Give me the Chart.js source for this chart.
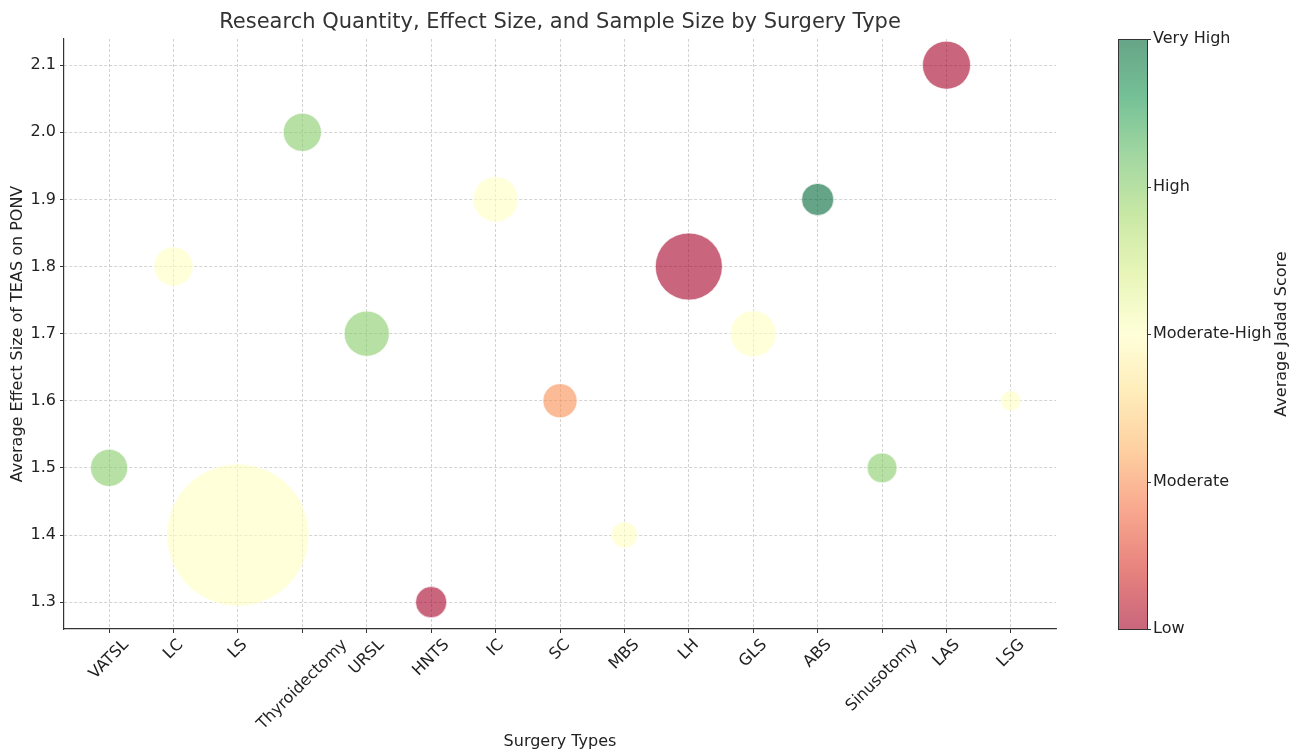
<!DOCTYPE html>
<html>
<head>
<meta charset="utf-8">
<title>Surgery Types Bubble Chart</title>
<script src="https://cdn.jsdelivr.net/npm/chart.js@4.4.1/dist/chart.umd.min.js"></script>
<style>
  html, body { margin: 0; padding: 0; background: #ffffff; }
  canvas { display: block; }
</style>
</head>
<body>
<canvas id="bubbleChart" width="1290" height="751"></canvas>
<script>
var surgeryTypes = ["VATSL", "LC", "LS", "Thyroidectomy", "URSL", "HNTS", "IC", "SC", "MBS", "LH", "GLS", "ABS", "Sinusotomy", "LAS", "LSG"];
var effectSizes = [1.5, 1.8, 1.4, 2.0, 1.7, 1.3, 1.9, 1.6, 1.4, 1.8, 1.7, 1.9, 1.5, 2.1, 1.6];
var sampleSizes = [71, 79, 1041, 75, 105, 50, 105, 60, 35, 232, 109, 53, 46, 119, 21];
// 0 = Low ... 4 = Very High
var jadadLevels = [3, 2, 2, 3, 3, 0, 2, 1, 2, 0, 2, 4, 3, 0, 2];
var jadadLabels = ["Low", "Moderate", "Moderate-High", "High", "Very High"];

var FONT = "'DejaVu Sans', 'Liberation Sans', sans-serif";
var TEXT = "#222222";

// matplotlib RdYlGn
var rdylgn = ["#a50026", "#d73027", "#f46d43", "#fdae61", "#fee08b", "#ffffbf",
              "#d9ef8b", "#a6d96a", "#66bd63", "#1a9850", "#006837"];

function hexToRgb(h) {
  return [parseInt(h.substr(1, 2), 16), parseInt(h.substr(3, 2), 16), parseInt(h.substr(5, 2), 16)];
}

function cmap(t, alpha) {
  var pos = t * (rdylgn.length - 1);
  var i = Math.min(Math.floor(pos), rdylgn.length - 2);
  var f = pos - i;
  var a = hexToRgb(rdylgn[i]);
  var b = hexToRgb(rdylgn[i + 1]);
  var c = a.map((v, k) => Math.round(v + (b[k] - v) * f));
  return "rgba(" + c[0] + "," + c[1] + "," + c[2] + "," + alpha + ")";
}

var extrasPlugin = {
  id: "extras",
  afterDraw(chart) {
    var ctx = chart.ctx;
    var area = chart.chartArea;
    var xScale = chart.scales.x;
    var cb = chart.scales.cb;

    ctx.save();
    // title, centred over the plot area
    ctx.font = "21px " + FONT;
    ctx.fillStyle = "#333333";
    ctx.textAlign = "center";
    ctx.textBaseline = "middle";
    ctx.fillText("Research Quantity, Effect Size, and Sample Size by Surgery Type", (area.left + area.right) / 2, 23);

    // x tick labels, rotated 45 and centred on the tick
    ctx.font = "16px " + FONT;
    ctx.fillStyle = TEXT;
    xScale.ticks.forEach((t) => {
      var label = surgeryTypes[t.value];
      if (label === undefined) return;
      var w = ctx.measureText(label).width;
      var half = (w + 15) * Math.SQRT1_2 / 2;
      ctx.save();
      ctx.translate(xScale.getPixelForValue(t.value), xScale.top + 8 + half);
      ctx.rotate(-Math.PI / 4);
      ctx.fillText(label, 0, 0);
      ctx.restore();
    });

    // colour bar
    var top = cb.getPixelForValue(4);
    var bottom = cb.getPixelForValue(0);
    var x0 = area.right + 62;
    var bw = 29;
    var grad = ctx.createLinearGradient(0, bottom, 0, top);
    for (var i = 0; i < rdylgn.length; i++) {
      grad.addColorStop(i / (rdylgn.length - 1), cmap(i / (rdylgn.length - 1), 0.6));
    }
    ctx.fillStyle = grad;
    ctx.fillRect(x0, top, bw, bottom - top);
    ctx.strokeStyle = "#333333";
    ctx.lineWidth = 1;
    ctx.strokeRect(x0 + 0.5, top + 0.5, bw, bottom - top);
    cb.ticks.forEach((t) => {
      var y = Math.round(cb.getPixelForValue(t.value)) + 0.5;
      ctx.beginPath();
      ctx.moveTo(x0 + bw, y);
      ctx.lineTo(x0 + bw + 4, y);
      ctx.stroke();
    });

    ctx.save();
    ctx.translate(1282, (top + bottom) / 2);
    ctx.rotate(-Math.PI / 2);
    ctx.font = "16px " + FONT;
    ctx.fillStyle = TEXT;
    ctx.textAlign = "center";
    ctx.textBaseline = "middle";
    ctx.fillText("Average Jadad Score", 0, 0);
    ctx.restore();

    ctx.restore();
  }
};

function buildBubbleChart() {
  var points = surgeryTypes.map((name, i) => ({
    x: i,
    y: effectSizes[i],
    r: Math.sqrt(sampleSizes[i]) * 2.2
  }));
  var colors = jadadLevels.map((lvl) => cmap(lvl / 4, 0.6));

  var gridStyle = {
    color: "rgba(176,176,176,0.7)",
    lineWidth: 0.8,
    tickLength: 4,
    tickColor: "#333333",
    tickWidth: 1,
    tickBorderDash: []
  };

  var ctx = document.getElementById("bubbleChart").getContext("2d");
  window.myBubbleChart = new Chart(ctx, {
    type: "bubble",
    data: {
      datasets: [
        {
          label: "Surgery types",
          data: points,
          backgroundColor: colors,
          borderColor: "rgba(255,255,255,0.6)",
          borderWidth: 1
        }
      ]
    },
    options: {
      responsive: false,
      animation: false,
      devicePixelRatio: 1,
      events: [],
      layout: { autoPadding: false, padding: { top: 39, left: 0, right: 0, bottom: 0 } },
      plugins: {
        legend: { display: false },
        tooltip: { enabled: false },
        title: { display: false }
      },
      scales: {
        x: {
          type: "linear",
          position: "bottom",
          min: -0.7,
          max: 14.7,
          afterFit: (scale) => { scale.height = 122; },
          ticks: { stepSize: 1, includeBounds: false, display: false },
          grid: gridStyle,
          border: { color: "#333333", width: 1.2, dash: [3, 2] },
          title: {
            display: true,
            text: "Surgery Types",
            color: TEXT,
            font: { family: FONT, size: 16 },
            padding: { top: 0, bottom: 0 }
          }
        },
        y: {
          type: "linear",
          position: "left",
          min: 1.26,
          max: 2.139,
          afterFit: (scale) => { scale.width = 64; },
          ticks: {
            stepSize: 0.1,
            includeBounds: false,
            padding: 4,
            color: TEXT,
            font: { family: FONT, size: 16 },
            callback: (v) => v.toFixed(1)
          },
          grid: gridStyle,
          border: { color: "#333333", width: 1.2, dash: [3, 2] },
          title: {
            display: true,
            text: "Average Effect Size of TEAS on PONV",
            color: TEXT,
            font: { family: FONT, size: 16 },
            padding: { top: 8, bottom: 0 }
          }
        },
        cb: {
          type: "linear",
          position: "right",
          min: 0,
          max: 4,
          afterFit: (scale) => {
            scale.width = 234;
            // the wide label padding must not push the plot area down
            scale.paddingTop = 10;
            scale.paddingBottom = 10;
          },
          ticks: {
            stepSize: 1,
            padding: 97,
            color: TEXT,
            font: { family: FONT, size: 16 },
            callback: (v) => jadadLabels[v]
          },
          grid: { display: false, drawTicks: false },
          border: { display: false }
        }
      }
    },
    plugins: [extrasPlugin]
  });
}

buildBubbleChart();
</script>
</body>
</html>
